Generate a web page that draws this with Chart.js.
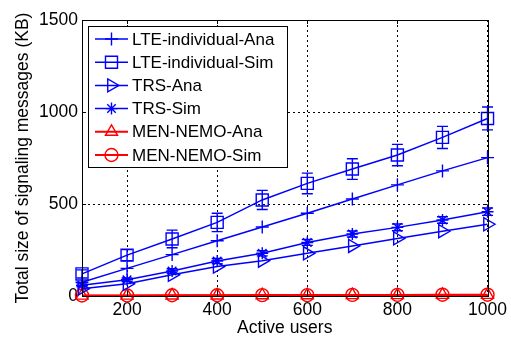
<!DOCTYPE html>
<html>
<head>
<meta charset="utf-8">
<script src="https://cdn.jsdelivr.net/npm/chart.js@4.4.1/dist/chart.umd.min.js"></script>
<style>
  html, body { margin: 0; padding: 0; background: #fff; }
  #wrap { width: 511px; height: 343px; }
</style>
</head>
<body>
<div id="wrap"><canvas id="c" width="511" height="343"></canvas></div>
<script>
// ---- data ----
const users = [100, 200, 300, 400, 500, 600, 700, 800, 900, 1000];
const lteAna = [75, 150, 225, 300, 375, 450, 527, 604, 680, 752];
const lteSim = [120, 222, 310, 400, 522, 612, 690, 766, 862, 965];
const lteSimErr = [22, 30, 48, 50, 52, 56, 56, 58, 60, 62];
const trsAna = [40, 66, 115, 160, 192, 232, 272, 313, 352, 390];
const trsSim = [58, 88, 136, 190, 232, 291, 337, 373, 413, 458];
const trsSimErr = [8, 10, 12, 14, 14, 16, 16, 18, 18, 20];
const menAna = [2, 2, 3, 3, 4, 4, 5, 5, 6, 6];
const menSim = [3, 3, 4, 4, 5, 5, 6, 6, 7, 7];
const xTicks = [200, 400, 600, 800, 1000];
const yTicks = [0, 500, 1000, 1500];
const seriesNames = ['LTE-individual-Ana', 'LTE-individual-Sim', 'TRS-Ana', 'TRS-Sim', 'MEN-NEMO-Ana', 'MEN-NEMO-Sim'];

const FONT = "'Liberation Sans', Arial, Helvetica, sans-serif";
const BLUE = '#0000ff';
const RED = '#ff0000';

function pts(vals) { return users.map((u, i) => ({ x: u, y: vals[i] })); }

function ds(label, vals, color, style, radius, rotation, lw, errs) {
  return {
    label, data: pts(vals), errors: errs || null,
    borderColor: color, backgroundColor: 'rgba(0,0,0,0)',
    pointBorderColor: color, pointBackgroundColor: 'rgba(0,0,0,0)',
    pointStyle: style, pointRadius: radius, pointRotation: rotation,
    pointBorderWidth: 1.4, pointHoverRadius: radius,
    borderWidth: lw, tension: 0, fill: false, clip: false
  };
}

const datasets = [
  ds(seriesNames[0], lteAna, BLUE, 'cross', 6.5, 0, 1.5),
  ds(seriesNames[1], lteSim, BLUE, 'rect', 8.5, 0, 1.5, lteSimErr),
  ds(seriesNames[2], trsAna, BLUE, 'triangle', 7.5, 90, 1.5),
  ds(seriesNames[3], trsSim, BLUE, 'star', 6, 0, 1.5, trsSimErr),
  ds(seriesNames[4], menAna, RED, 'triangle', 7, 0, 2),
  ds(seriesNames[5], menSim, RED, 'circle', 6.5, 0, 2)
];

// error bars drawn through the scales
const errorBars = {
  id: 'errorBars',
  afterDatasetsDraw(chart) {
    const ctx = chart.ctx, xs = chart.scales.x, ys = chart.scales.y;
    chart.data.datasets.forEach(d => {
      if (!d.errors) return;
      ctx.save();
      ctx.strokeStyle = d.borderColor;
      ctx.lineWidth = 1.4;
      d.data.forEach((p, i) => {
        const e = d.errors[i];
        const px = xs.getPixelForValue(p.x);
        const y1 = ys.getPixelForValue(p.y + e), y2 = ys.getPixelForValue(p.y - e);
        const cap = 5.5;
        ctx.beginPath();
        ctx.moveTo(px, y1); ctx.lineTo(px, y2);
        ctx.moveTo(px - cap, y1); ctx.lineTo(px + cap, y1);
        ctx.moveTo(px - cap, y2); ctx.lineTo(px + cap, y2);
        ctx.stroke();
      });
      ctx.restore();
    });
  }
};

// box around plot plus inward ticks
const frame = {
  id: 'frame',
  afterDatasetsDraw(chart) {
    const ctx = chart.ctx, a = chart.chartArea, xs = chart.scales.x, ys = chart.scales.y;
    ctx.save();
    ctx.strokeStyle = '#000';
    ctx.lineWidth = 1;
    ctx.setLineDash([]);
    ctx.strokeRect(Math.round(a.left) + 0.5, Math.round(a.top) + 0.5, Math.round(a.right - a.left), Math.round(a.bottom - a.top));
    ctx.beginPath();
    xTicks.forEach(v => {
      const px = Math.round(xs.getPixelForValue(v)) + 0.5;
      ctx.moveTo(px, a.bottom); ctx.lineTo(px, a.bottom - 4);
      ctx.moveTo(px, a.top); ctx.lineTo(px, a.top + 4);
    });
    yTicks.forEach(v => {
      const py = Math.round(ys.getPixelForValue(v)) + 0.5;
      ctx.moveTo(a.left, py); ctx.lineTo(a.left + 4, py);
      ctx.moveTo(a.right, py); ctx.lineTo(a.right - 4, py);
    });
    ctx.stroke();
    ctx.restore();
  }
};

function drawMarker(ctx, d, x, y) {
  const opts = { pointStyle: d.pointStyle, rotation: d.pointRotation, radius: d.pointRadius, borderWidth: d.pointBorderWidth };
  if (Chart.helpers && Chart.helpers.drawPoint) {
    ctx.strokeStyle = d.pointBorderColor;
    ctx.fillStyle = 'rgba(0,0,0,0)';
    ctx.lineWidth = d.pointBorderWidth;
    Chart.helpers.drawPoint(ctx, opts, x, y);
  }
}

// legend inside the plot, boxed
const boxLegend = {
  id: 'boxLegend',
  afterDraw(chart) {
    const ctx = chart.ctx;
    const L = 88, T = 26, R = 287, B = 167;
    ctx.save();
    ctx.fillStyle = '#fff';
    ctx.fillRect(L, T, R - L, B - T);
    ctx.strokeStyle = '#000';
    ctx.lineWidth = 1;
    ctx.strokeRect(L + 0.5, T + 0.5, R - L, B - T);
    ctx.font = '17px ' + FONT;
    ctx.textBaseline = 'middle';
    ctx.textAlign = 'left';
    chart.data.datasets.forEach((d, i) => {
      const y = 39 + i * 23.2;
      ctx.strokeStyle = d.borderColor;
      ctx.lineWidth = d.borderWidth;
      ctx.beginPath();
      ctx.moveTo(95, y); ctx.lineTo(128, y);
      ctx.stroke();
      drawMarker(ctx, d, 111.5, y);
      ctx.fillStyle = '#000';
      ctx.fillText(d.label, 132, y + 1);
    });
    ctx.restore();
  }
};

const plain = v => String(v);

new Chart(document.getElementById('c'), {
  type: 'line',
  data: { datasets },
  options: {
    responsive: false,
    animation: false,
    devicePixelRatio: 1,
    layout: { padding: { top: 20, right: 22, left: 0, bottom: 0 } },
    plugins: { legend: { display: false }, tooltip: { enabled: false } },
    scales: {
      x: {
        type: 'linear', min: 100, max: 1000,
        afterBuildTicks: s => { s.ticks = xTicks.map(v => ({ value: v })); },
        afterFit: s => { s.height = 47; },
        ticks: { color: '#000', font: { family: FONT, size: 17.5 }, padding: 4, maxRotation: 0, autoSkip: false, callback: plain },
        grid: { color: '#000', lineWidth: 1, drawTicks: false },
        border: { display: true, color: '#000', width: 1, dash: [2, 3] },
        title: { display: true, text: 'Active users', color: '#000', font: { family: FONT, size: 17.5 }, padding: { top: 0, bottom: 4 } }
      },
      y: {
        type: 'linear', min: 0, max: 1500,
        afterBuildTicks: s => { s.ticks = yTicks.map(v => ({ value: v })); },
        afterFit: s => { s.width = 82; },
        ticks: { color: '#000', font: { family: FONT, size: 17.5 }, padding: 4, callback: plain },
        grid: { color: '#000', lineWidth: 1, drawTicks: false },
        border: { display: true, color: '#000', width: 1, dash: [2, 3] },
        title: { display: true, text: 'Total size of signaling messages (KB)', color: '#000', font: { family: FONT, size: 17.5 }, padding: { top: 13, bottom: 0 } }
      }
    }
  },
  plugins: [errorBars, frame, boxLegend]
});
</script>
</body>
</html>
